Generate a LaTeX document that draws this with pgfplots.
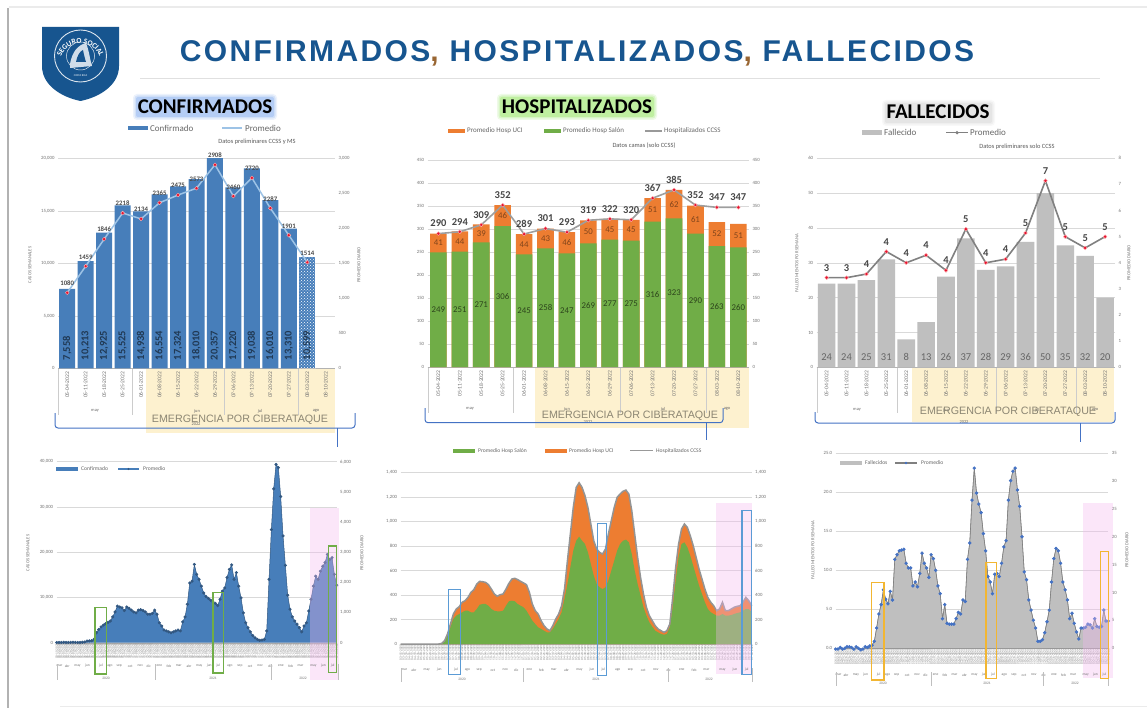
\documentclass[border=0pt]{standalone}
\usepackage{fontspec}
\usepackage{pgfplots}
\usepackage{pgfplotstable}
\usepackage{pgfcalendar}
\pgfplotsset{compat=1.18}
\usetikzlibrary{patterns,decorations.text}
\setmainfont{Carlito}
\newfontfamily\titlefont[LetterSpace=8]{Liberation Sans}
\newfontfamily\bannerfont{Liberation Sans}

\definecolor{cblue}{HTML}{477EBA}
\definecolor{cline}{HTML}{9DC3E6}
\definecolor{cred}{HTML}{E5122F}
\definecolor{cgreen}{HTML}{70AD47}
\definecolor{corange}{HTML}{ED7D31}
\definecolor{cgray}{HTML}{BFBFBF}
\definecolor{titleblue}{HTML}{17558F}
\definecolor{brace}{HTML}{4472C4}
\definecolor{yellowbg}{HTML}{FDF1CF}
\definecolor{pinkbg}{HTML}{F5B8F0}
\definecolor{bannertext}{HTML}{8C8673}
\definecolor{boxblue}{HTML}{5B9BD5}
\definecolor{boxgold}{HTML}{F2B632}
\definecolor{glowblue}{HTML}{B4CDF5}
\definecolor{glowgreen}{HTML}{BFEFA0}
\definecolor{glowgray}{HTML}{E5E5E5}

\newcommand{\fs}[1]{\fontsize{#1}{#1}\selectfont}

% weekly panels: date of the first week
\newcount\weekzero
\pgfcalendardatetojulian{2020-03-15}{\weekzero}

\pgfplotsset{
  /pgf/number format/assume math mode=true,
  panel/.style={scale only axis, anchor=south west, axis x line*=bottom, axis y line*=left,
    axis line style={-}, y axis line style={draw=none}, x axis line style={draw=black!30},
    major tick length=0pt, enlargelimits=false, ymajorgrids, scaled y ticks=false,
    grid style={draw=black!15, line width=.6pt},
    yticklabel style={font=\fs{4.8}, text=black!55}},
  side/.style={scale only axis, anchor=south west, hide x axis, axis y line*=right,
    axis line style={-}, y axis line style={draw=none}, major tick length=0pt,
    enlargelimits=false, clip=false, scaled y ticks=false,
    yticklabel style={font=\fs{4.8}, text=black!55}},
  topx/.style={xmin=-0.5, xmax=14.5, xtick={0,...,14},
    xticklabels={05-04-2022,05-11-2022,05-18-2022,05-25-2022,06-01-2022,06-08-2022,06-15-2022,06-22-2022,06-29-2022,07-06-2022,07-13-2022,07-20-2022,07-27-2022,08-03-2022,08-10-2022},
    xticklabel style={rotate=90, anchor=east, font=\fs{5.6}, text=black!55}},
  weekx/.style={xmin=0, xmax=120, xtick={0,...,120},
    xticklabel={\pgfmathtruncatemacro\wk{\tick}\pgfcalendarjuliantodate{\numexpr\weekzero+7*\wk\relax}{\yy}{\mm}{\dd}\mm-\dd-\yy},
    xticklabel style={rotate=90, anchor=east, font=\fs{3.3}, text=black!50, inner sep=.6pt}},
  dotline/.style={mark=*, mark size=1.9pt, mark options={fill=cred, draw=red!30, line width=.4pt}},
  overlabel/.style={nodes near coords={\pgfmathprintnumber[1000 sep={},fixed,precision=0]{\pgfplotspointmeta}},
    nodes near coords style={anchor=south, yshift=#1}},
}

% top row tables
\pgfplotstableread[row sep=\\]{
x c p \\
0 7558 1080 \\ 1 10213 1459 \\ 2 12925 1846 \\ 3 15525 2218 \\ 4 14938 2134 \\
5 16554 2365 \\ 6 17324 2475 \\ 7 18010 2573 \\ 8 20357 2908 \\ 9 17220 2460 \\
10 19038 2720 \\ 11 16010 2287 \\ 12 13310 1901 \\ 13 10599 1514 \\
}\confweek
\pgfplotstableread[row sep=\\]{
x salon uci total \\
0 249 41 290 \\ 1 251 44 294 \\ 2 271 39 309 \\ 3 306 46 352 \\ 4 245 44 289 \\
5 258 43 301 \\ 6 247 46 293 \\ 7 269 50 319 \\ 8 277 45 322 \\ 9 275 45 320 \\
10 316 51 367 \\ 11 323 62 385 \\ 12 290 61 352 \\ 13 263 52 347 \\ 14 260 51 347 \\
}\hospweek
\pgfplotstableread[row sep=\\]{
x f p \\
0 24 3.43 \\ 1 24 3.43 \\ 2 25 3.57 \\ 3 31 4.43 \\ 4 8 4.00 \\ 5 13 4.29 \\ 6 26 3.71 \\
7 37 5.29 \\ 8 28 4.00 \\ 9 29 4.14 \\ 10 36 5.14 \\ 11 50 7.14 \\ 12 35 5.00 \\ 13 32 4.57 \\ 14 20 5.00 \\
}\fallweek

% bottom row tables, one row per week
\pgfplotstableread[row sep=\\]{
c \\ 50\\ 60\\ 50\\ 80\\ 60\\ 50\\ 70\\ 100\\ 70\\ 50\\ 60\\ 100\\ 150\\ 370\\ 400\\ 450\\ 740\\ 2200\\ 2900\\ 3500\\
3900\\ 4200\\ 4500\\ 4800\\ 5700\\ 6800\\ 8100\\ 7900\\ 7700\\ 7100\\ 7900\\ 7600\\ 7200\\ 6800\\ 6600\\ 7200\\ 7300\\ 7100\\ 6800\\ 6300\\
6300\\ 6500\\ 7200\\ 6300\\ 4400\\ 3700\\ 2800\\ 2600\\ 2400\\ 2200\\ 2400\\ 2600\\ 2800\\ 2600\\ 4600\\ 5700\\ 8500\\ 13200\\ 13600\\ 17300\\
15100\\ 14000\\ 12500\\ 11000\\ 10200\\ 9800\\ 9400\\ 9000\\ 8700\\ 8200\\ 9600\\ 11400\\ 12100\\ 14400\\ 16200\\ 17200\\ 14000\\ 15500\\ 12500\\ 9900\\
6600\\ 4400\\ 3300\\ 2400\\ 1600\\ 1100\\ 740\\ 520\\ 590\\ 740\\ 2600\\ 14000\\ 25000\\ 34000\\ 39400\\ 38700\\ 32300\\ 23600\\ 17100\\ 10500\\
7400\\ 5700\\ 4800\\ 4100\\ 3300\\ 2400\\ 3700\\ 4400\\ 7000\\ 9600\\ 12500\\ 14700\\ 14000\\ 15800\\ 16900\\ 17700\\ 19500\\ 18400\\ 18800\\ 15100\\ 12700\\
}\confall
\pgfplotstableread[row sep=\\]{
t g \\ 0 0\\ 0 0\\ 0 0\\ 0 0\\ 0 0\\ 0 0\\ 0 0\\ 0 0\\ 0 0\\ 0 0\\ 0 0\\ 0 0\\ 0 0\\ 0 0\\
5 5\\ 27 22\\ 82 68\\ 163 136\\ 245 204\\ 286 232\\ 305 245\\ 341 259\\ 354 272\\ 381 272\\ 422 259\\ 444 259\\ 490 286\\ 512 321\\ 509 327\\ 504 327\\
485 313\\ 449 286\\ 409 272\\ 390 267\\ 403 267\\ 409 272\\ 449 313\\ 496 349\\ 531 354\\ 537 349\\ 526 327\\ 512 313\\ 499 300\\ 485 272\\ 422 232\\ 327 191\\
272 163\\ 245 136\\ 191 123\\ 150 109\\ 123 95\\ 109 95\\ 150 123\\ 204 163\\ 245 204\\ 313 259\\ 449 368\\ 681 490\\ 899 627\\ 1117 763\\ 1280 844\\ 1318 877\\
1280 844\\ 1212 817\\ 1117 749\\ 981 654\\ 844 558\\ 776 490\\ 749 463\\ 735 449\\ 776 463\\ 899 518\\ 1008 599\\ 1117 681\\ 1199 763\\ 1226 817\\ 1248 844\\ 1258 853\\
1226 831\\ 1090 735\\ 899 599\\ 708 490\\ 545 395\\ 409 300\\ 300 232\\ 232 177\\ 191 142\\ 150 109\\ 123 95\\ 109 82\\ 95 76\\ 109 82\\ 163 136\\ 381 300\\
627 518\\ 817 708\\ 940 817\\ 981 831\\ 953 790\\ 885 722\\ 804 640\\ 708 558\\ 613 477\\ 531 409\\ 449 341\\ 381 286\\ 341 259\\ 313 245\\ 272 232\\ 286 232\\
341 245\\ 272 232\\ 272 232\\ 286 237\\ 300 245\\ 308 253\\ 313 259\\ 341 272\\ 381 286\\ 354 286\\ 313 259\\
}\hospall
\pgfplotstableread[row sep=\\]{
f \\ -0.1\\ -0.1\\ 0.1\\ -0.1\\ 0.0\\ 0.2\\ 0.2\\ 0.1\\ -0.1\\ 0.2\\ 0.0\\ -0.2\\ -0.1\\ 0.2\\ 0.1\\ 0.3\\ 0.4\\ 0.9\\ 2.6\\ 4.4\\
5.6\\ 7.5\\ 6.3\\ 5.7\\ 7.3\\ 6.2\\ 11.4\\ 12.0\\ 12.5\\ 12.6\\ 12.7\\ 10.9\\ 10.3\\ 10.3\\ 8.0\\ 8.5\\ 7.9\\ 9.6\\ 12.2\\ 10.9\\
10.3\\ 9.1\\ 12.0\\ 11.5\\ 10.0\\ 8.0\\ 7.0\\ 3.8\\ 5.6\\ 3.2\\ 3.1\\ 3.1\\ 3.1\\ 3.8\\ 4.6\\ 4.4\\ 6.2\\ 6.0\\ 11.4\\ 13.5\\
19.0\\ 23.1\\ 19.9\\ 18.5\\ 17.4\\ 14.7\\ 12.5\\ 9.2\\ 8.5\\ 7.0\\ 9.5\\ 9.6\\ 9.2\\ 10.9\\ 13.0\\ 13.8\\ 19.0\\ 21.5\\ 22.7\\ 23.1\\
20.3\\ 18.2\\ 14.3\\ 9.8\\ 8.8\\ 6.2\\ 4.9\\ 3.6\\ 2.6\\ 0.9\\ 0.9\\ 1.1\\ 2.0\\ 3.4\\ 4.9\\ 8.5\\ 11.5\\ 12.8\\ 12.5\\ 10.9\\
8.5\\ 7.5\\ 6.2\\ 3.8\\ 4.5\\ 3.2\\ 2.1\\ 1.2\\ 2.6\\ 2.6\\ 2.7\\ 3.1\\ 3.0\\ 2.6\\ 3.8\\ 2.8\\ 2.7\\ 2.8\\ 4.9\\ 3.5\\ 3.5\\
}\fallall

% picture helpers, all in reference pixels with y running down
\newcommand{\glow}[5]{%
  \fill[#5, opacity=.25, rounded corners=4] (#1-3,#2-3) rectangle (#3+3,#4+3);
  \fill[#5, opacity=.45, rounded corners=3] (#1-1.5,#2-1.5) rectangle (#3+1.5,#4+1.5);
  \fill[#5, rounded corners=2] (#1,#2) rectangle (#3,#4);}
\newcommand{\txt}[4]{\node[font=\fs{#3}, text=black!60, inner sep=0, anchor=west] at (#1,#2) {#4};}
\newcommand{\swatch}[4]{\fill[#4] (#1,#3-2.2) rectangle (#2,#3+2.2);}
\newcommand{\keyline}[4]{\draw[#4, line width=1.4pt] (#1,#3) -- (#2,#3);}
\newcommand{\ytitle}[3]{\node[rotate=90, font=\fs{4.6}, text=black!55, inner sep=0] at (#1,#2) {#3};}
\newcommand{\months}[3]{\foreach \i/\m in {1.2/mar,4.5/abr,8.9/may,13.2/jun,18.9/jul,22.8/ago,26.8/sep,31.5/oct,35.8/nov,39.5/dic,44/ene,48.1/feb,52.3/mar,56.7/abr,61.1/may,65.4/jun,69.3/jul,74.2/ago,78.5/sep,82.9/oct,87.2/nov,91.6/dic,96.1/ene,100.3/feb,104.5/mar,110/may,114.3/jun,118.3/jul}
  \node[font=\fs{3.6}, text=black!55, inner sep=0] at ({#1+\i*((#2-#1)/120)},#3) {\m};}
\newcommand{\bracket}[7]{% left, top, base y, right, stem x, stem end, colour
  \draw[#7, line width=1pt, rounded corners=3] (#1,#2) -- (#1,#3) -- (#4,#3) -- (#4,#2);
  \draw[#7, line width=1pt] (#5,#3) -- (#5,#6);}

\begin{document}
\begin{tikzpicture}
\path[use as bounding box] (0,0) rectangle (1147pt,-708pt);

% everything behind the axes
\begin{scope}[x=1pt,y=-1pt]
  \fill[white] (0,0) rectangle (1147,708);
  \draw[black!8, line width=2pt] (9,7) -- (1147,7);
  \draw[black!30, line width=1.4pt] (8,8) -- (8,708);
  \draw[black!8, line width=1pt] (60,706) -- (1147,706);
  \draw[black!12, line width=.6pt] (140,78) -- (1100,78);
  % shield
  \fill[titleblue] (42,27) -- (119,27) -- (119,66) .. controls (119,85) and (100,97) .. (80.5,101)
     .. controls (61,97) and (42,85) .. (42,66) -- cycle;
  \draw[white!85!titleblue, line width=.9pt] (80.5,56) circle[radius=26];
  \draw[white!85!titleblue, line width=.5pt] (80.5,56) circle[radius=14];
  \fill[white!80!titleblue] (70,64) .. controls (72,52) and (78,45) .. (86,43)
     .. controls (89,50) and (90,60) .. (92,66) -- (70,68) -- cycle;
  \fill[titleblue] (76,62) .. controls (77,56) and (80,51) .. (83,50) .. controls (84,55) and (85,59) .. (86,62) -- cycle;
  \node[font=\fs{2.8}, text=white, inner sep=0] at (80.5,76) {COSTA RICA};
  % title
  \node[font=\titlefont\bfseries\fs{30}, text=titleblue, inner sep=0] at (577,53)
    {CONFIRMADOS\textcolor{brown!80!black}{,} HOSPITALIZADOS\textcolor{brown!80!black}{,} FALLECIDOS};
  % headers
  \glow{136}{97}{274}{117}{glowblue}
  \node[font=\bfseries\fs{21}, inner sep=0] at (205,107) {CONFIRMADOS};
  \glow{500}{97}{654}{117}{glowgreen}
  \node[font=\bfseries\fs{21}, inner sep=0] at (577,107) {HOSPITALIZADOS};
  \glow{885}{103}{992}{123}{glowgray}
  \node[font=\bfseries\fs{21}, inner sep=0] at (938,112) {FALLECIDOS};
  % emergency bands
  \fill[yellowbg] (146,368) rectangle (335,433);
  \fill[yellowbg] (535,367) rectangle (749,428);
  \fill[yellowbg] (912,368) rectangle (1114,422);
\end{scope}

% ---- confirmados, weeks
\begin{axis}[panel, topx, at={(58pt,-368.3pt)}, width=277pt, height=210pt,
    ymin=0, ymax=20000, ytick={0,5000,10000,15000,20000}]
  \addplot[ybar, bar width=16pt, bar shift=0pt, fill=cblue, draw=none, skip coords between index={13}{14}]
    table[x=x, y=c] {\confweek};
  \addplot[ybar, bar width=16pt, bar shift=0pt, fill=cblue, draw=none, skip coords between index={0}{13},
    postaction={pattern=crosshatch dots, pattern color=white}]
    table[x=x, y=c] {\confweek};
  \addplot[draw=none, nodes near coords, point meta=explicit,
    nodes near coords style={rotate=90, anchor=west, font=\bfseries\fs{10.5}, text=black!55!cblue}]
    table[x=x, y expr=450, meta=c] {\confweek};
\end{axis}
\begin{axis}[side, at={(58pt,-368.3pt)}, width=277pt, height=210pt,
    xmin=-0.5, xmax=14.5, ymin=0, ymax=3000, ytick={0,500,...,3000}]
  \addplot[cline, line width=1.5pt, dotline, overlabel=3.5pt, point meta=y,
    nodes near coords style={font=\bfseries\fs{6.8}, text=black!70}]
    table[x=x, y=p] {\confweek};
\end{axis}

% ---- hospitalizados, weeks
\begin{axis}[panel, topx, at={(427.7pt,-367pt)}, width=321.3pt, height=207pt,
    ymin=0, ymax=450, ytick={0,50,...,450}]
  \addplot[ybar, bar width=16.6pt, bar shift=0pt, fill=corange, draw=none]
    table[x=x, y expr=\thisrow{salon}+\thisrow{uci}] {\hospweek};
  \addplot[ybar, bar width=16.6pt, bar shift=0pt, fill=cgreen, draw=none]
    table[x=x, y=salon] {\hospweek};
  \addplot[draw=none, nodes near coords, point meta=explicit,
    nodes near coords style={anchor=center, font=\fs{8.8}, text=black!60!cgreen}]
    table[x=x, y expr=\thisrow{salon}/2, meta=salon] {\hospweek};
  \addplot[draw=none, nodes near coords, point meta=explicit,
    nodes near coords style={anchor=center, font=\fs{8.8}, text=black!45!corange}]
    table[x=x, y expr=\thisrow{salon}+\thisrow{uci}/2, meta=uci] {\hospweek};
\end{axis}
\begin{axis}[side, at={(427.7pt,-367pt)}, width=321.3pt, height=207pt,
    xmin=-0.5, xmax=14.5, ymin=0, ymax=450, ytick={0,50,...,450}]
  \addplot[black!38, line width=1.6pt, dotline, overlabel=3pt, point meta=y,
    nodes near coords style={font=\bfseries\fs{10.5}, text=black!72}]
    table[x=x, y=total] {\hospweek};
\end{axis}

% ---- fallecidos, weeks
\begin{axis}[panel, topx, at={(816.7pt,-367.3pt)}, width=298.3pt, height=209pt,
    ymin=0, ymax=60, ytick={0,10,...,60}]
  \addplot[ybar, bar width=17.6pt, bar shift=0pt, fill=cgray, draw=none]
    table[x=x, y=f] {\fallweek};
  \addplot[draw=none, nodes near coords, point meta=explicit,
    nodes near coords style={anchor=center, font=\fs{10.5}, text=black!60}]
    table[x=x, y expr=3, meta=f] {\fallweek};
\end{axis}
\begin{axis}[side, at={(816.7pt,-367.3pt)}, width=298.3pt, height=209pt,
    xmin=-0.5, xmax=14.5, ymin=0, ymax=8, ytick={0,...,8}]
  \addplot[black!50, line width=1.6pt, dotline, overlabel=3pt, point meta=y,
    nodes near coords style={font=\bfseries\fs{10.5}, text=black!72}]
    table[x=x, y=p] {\fallweek};
\end{axis}

% ---- confirmados, whole series
\begin{axis}[panel, weekx, at={(56.7pt,-642.7pt)}, width=280pt, height=181pt,
    ymin=0, ymax=40000, ytick={0,10000,...,40000}]
  \addplot[fill=cblue, draw=none] table[x expr=\coordindex, y=c] {\confall} \closedcycle;
\end{axis}
\begin{axis}[side, at={(56.7pt,-642.7pt)}, width=280pt, height=181pt,
    xmin=0, xmax=120, ymin=0, ymax=6000, ytick={0,1000,...,6000}]
  \addplot[cblue!70!black, line width=.5pt, mark=*, mark size=1.3pt]
    table[x expr=\coordindex, y index=0, y expr=\thisrow{c}*0.15] {\confall};
\end{axis}

% ---- hospitalizados, whole series
\begin{axis}[panel, weekx, at={(400.7pt,-644pt)}, width=351pt, height=171.3pt,
    ymin=0, ymax=1400, ytick={0,200,...,1400}]
  \addplot[fill=corange, draw=none] table[x expr=\coordindex, y=t] {\hospall} \closedcycle;
  \addplot[fill=cgreen, draw=none] table[x expr=\coordindex, y=g] {\hospall} \closedcycle;
\end{axis}
\begin{axis}[side, at={(400.7pt,-644pt)}, width=351pt, height=171.3pt,
    xmin=0, xmax=120, ymin=0, ymax=1400, ytick={0,200,...,1400}]
  \addplot[black!42, line width=1.5pt] table[x expr=\coordindex, y=t] {\hospall};
\end{axis}

% ---- fallecidos, whole series
\begin{axis}[panel, weekx, at={(835.7pt,-648.3pt)}, width=272.6pt, height=195pt,
    ymin=0, ymax=25, ytick={0,5,...,25},
    yticklabel={\pgfmathprintnumber[fixed,fixed zerofill,precision=1]{\tick}}]
  \addplot[fill=cgray, draw=black!45, line width=.5pt] table[x expr=\coordindex, y=f] {\fallall} \closedcycle;
\end{axis}
\begin{axis}[side, at={(835.7pt,-648.3pt)}, width=272.6pt, height=195pt,
    xmin=0, xmax=120, ymin=0, ymax=35, ytick={0,5,...,35}]
  \addplot[black!50, line width=.6pt, mark=*, mark size=1.4pt, mark options={fill=brace, draw=brace}]
    table[x expr=\coordindex, y index=0, y expr=\thisrow{f}*1.4] {\fallall};
\end{axis}

% ---- labels, keys, bands and boxes in front
\begin{scope}[x=1pt,y=-1pt]
  % confirmados top
  \swatch{128}{148}{128}{cblue}\txt{150}{128}{9}{Confirmado}
  \keyline{222}{242}{128}{cline}\txt{245}{128}{9}{Promedio}
  \node[font=\fs{6.4}, text=black!65, inner sep=0] at (257,142) {Datos preliminares CCSS y MS};
  \ytitle{30}{265}{CASOS SEMANALES}\ytitle{359}{265}{PROMEDIO DIARIO}
  \foreach \x in {58,132.5,224,298} \draw[black!20] (\x,369) -- (\x,415);
  \foreach \x/\t in {95/may,197/jun,260/jul,316/ago}
    \node[font=\fs{4.4}, text=black!60, inner sep=0] at (\x,411) {\t};
  \node[font=\fs{4.4}, text=black!60, inner sep=0] at (196,424) {2022};
  \node[font=\bannerfont\fs{10.7}, text=bannertext, inner sep=0] at (240,420) {EMERGENCIA POR CIBERATAQUE};
  \bracket{55}{413}{428}{355}{337}{447}{brace}

  % hospitalizados top
  \swatch{448}{465}{131}{corange}\txt{467}{131}{7}{Promedio Hosp UCI}
  \swatch{544}{561}{131}{cgreen}\txt{563}{131}{7}{Promedio Hosp Salón}
  \keyline{645}{662}{131}{black!40}\txt{664}{131}{7}{Hospitalizados CCSS}
  \node[font=\fs{6.4}, text=black!65, inner sep=0] at (644,146) {Datos camas (solo CCSS)};
  \foreach \x in {427.7,513.3,620,706} \draw[black!20] (\x,368) -- (\x,413);
  \foreach \x/\t in {470/may,567/jun,663/jul,727/ago}
    \node[font=\fs{4.4}, text=black!60, inner sep=0] at (\x,409) {\t};
  \node[font=\fs{4.4}, text=black!60, inner sep=0] at (588,422) {2022};
  \node[font=\bannerfont\fs{10.7}, text=bannertext, inner sep=0] at (630,416) {EMERGENCIA POR CIBERATAQUE};
  \bracket{425}{408}{422.7}{723}{706}{440}{brace}

  % fallecidos top
  \swatch{862}{882}{132.7}{cgray}\txt{884}{132.7}{9}{Fallecido}
  \keyline{946}{968}{132.7}{black!50}\fill[black!50] (957,132.7) circle[radius=1.8];
  \txt{970}{132.7}{9}{Promedio}
  \node[font=\fs{6.4}, text=black!65, inner sep=0] at (1017,147) {Datos preliminares solo CCSS};
  \ytitle{797}{263}{FALLECIMIENTOS POR SEMANA}\ytitle{1129}{263}{PROMEDIO DIARIO}
  \foreach \x in {816.7,896.7,996,1075.7} \draw[black!20] (\x,368) -- (\x,413);
  \foreach \x/\t in {857/may,946/jun,1037/jul,1095/ago}
    \node[font=\fs{4.4}, text=black!60, inner sep=0] at (\x,410) {\t};
  \node[font=\fs{4.4}, text=black!60, inner sep=0] at (964,422) {2022};
  \node[font=\bannerfont\fs{10.7}, text=bannertext, inner sep=0] at (1008,412) {EMERGENCIA POR CIBERATAQUE};
  \bracket{815}{412}{423}{1115}{1080}{441.6}{brace}

  % confirmados bottom
  \fill[pinkbg, opacity=.35] (309.5,507.5) rectangle (339,680);
  \swatch{56}{78}{469}{cblue}\txt{81}{469}{5.6}{Confirmado}
  \keyline{118}{139}{469}{cblue}\fill[cblue!70!black] (128.5,469) circle[radius=1.2];
  \txt{143}{469}{5.6}{Promedio}
  \ytitle{28}{553}{CASOS SEMANALES}\ytitle{362}{553}{PROMEDIO DIARIO}
  \months{56.7}{336.7}{666}
  \foreach \x in {56.7,155,270.7,338} \draw[black!25] (\x,664) -- (\x,680);
  \foreach \x/\t in {106/2020,213/2021,303/2022} \node[font=\fs{3.6}, text=black!55, inner sep=0] at (\x,678) {\t};
  \foreach \a/\b/\c/\d in {95/607.5/106.5/674,213/592.5/223.5/673,328.5/546/336.5/672.5}
    \draw[cgreen, line width=1.1pt] (\a,\b) rectangle (\c,\d);

  % hospitalizados bottom
  \fill[pinkbg, opacity=.35] (715.7,503.3) rectangle (751.7,674.3);
  \swatch{453}{475}{450.7}{cgreen}\txt{478}{450.7}{5.6}{Promedio Hosp Salón}
  \swatch{545}{567}{450.7}{corange}\txt{569}{450.7}{5.6}{Promedio Hosp UCI}
  \keyline{630}{653}{450.7}{black!40}\txt{656}{450.7}{5.6}{Hospitalizados CCSS}
  \months{400.7}{751.7}{670}
  \foreach \x in {400.7,522.7,667.7,751.7} \draw[black!25] (\x,668) -- (\x,682);
  \foreach \x/\t in {462/2020,596/2021,709/2022} \node[font=\fs{3.6}, text=black!55, inner sep=0] at (\x,679) {\t};
  \foreach \a/\b/\c/\d in {448.3/589.3/460.7/674.3,597.3/523.3/606.7/675.7,742/510.7/751.7/674.3}
    \draw[boxblue, line width=1.1pt] (\a,\b) rectangle (\c,\d);

  % fallecidos bottom
  \fill[pinkbg, opacity=.35] (1083.3,502.7) rectangle (1112.7,678.3);
  \swatch{840}{862}{463}{cgray}\txt{865}{463}{5.6}{Fallecidos}
  \keyline{895}{917}{463}{black!50}\fill[brace] (906,463) circle[radius=1.3];
  \txt{921}{463}{5.6}{Promedio}
  \ytitle{813}{550}{FALLECIMIENTOS POR SEMANA}\ytitle{1127}{550}{PROMEDIO DIARIO}
  \months{835.7}{1108.3}{675}
  \foreach \x in {835.7,931,1043,1108.3} \draw[black!25] (\x,672) -- (\x,686);
  \foreach \x/\t in {883/2020,987/2021,1075/2022} \node[font=\fs{3.6}, text=black!55, inner sep=0] at (\x,683) {\t};
  \foreach \a/\b/\c/\d in {871.7/582.7/884/680,986/562.7/996.7/678.3,1100.3/551.7/1108.3/678.3}
    \draw[boxgold, line width=1.2pt] (\a,\b) rectangle (\c,\d);
\end{scope}

% logo lettering, along the ring
\path[decorate, decoration={text along path, text align=center,
    text={|\fs{7.5}\bfseries\color{white}|SEGURO SOCIAL}}]
    (60.5pt,-60pt) arc[start angle=170, end angle=10, radius=20.3pt];
\end{tikzpicture}
\end{document}
